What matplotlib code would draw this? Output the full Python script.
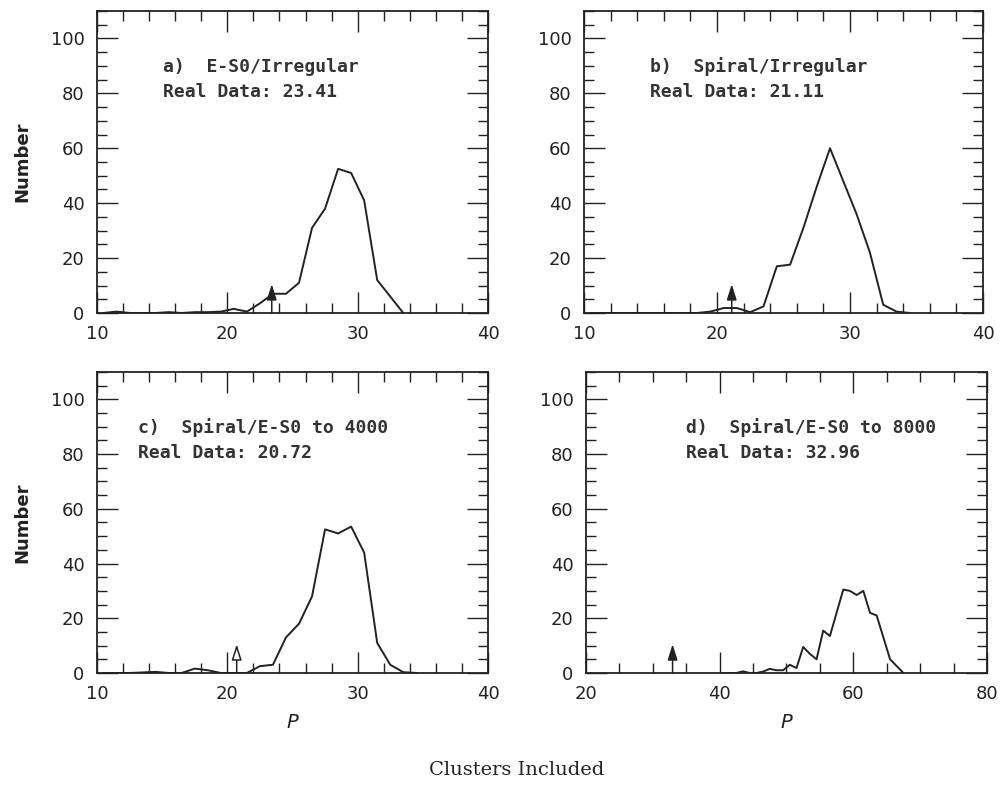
import matplotlib
matplotlib.use("Agg")
import matplotlib.pyplot as plt
from matplotlib.ticker import MultipleLocator

# bin centres and counts for each comparison
p_a = [10.5, 11.5, 12.5, 13.5, 14.5, 15.5, 16.5, 17.5, 18.5, 19.5, 20.5, 21.5, 22.5, 23.5,
       24.5, 25.5, 26.5, 27.5, 28.5, 29.5, 30.5, 31.5, 32.5, 33.5]
n_a = [0, 0.5, 0, 0, 0, 0.3, 0, 0.3, 0.3, 0.5, 1.5, 0.5, 3.5, 7,
       7, 11, 31, 38, 52.5, 51, 41, 12, 6, 0]

p_b = [10.5, 11.5, 12.5, 13.5, 14.5, 15.5, 16.5, 17.5, 18.5, 19.5, 20.5, 21.5, 22.5, 23.5,
       24.5, 25.5, 26.5, 27.5, 28.5, 29.5, 30.5, 31.5, 32.5, 33.5, 34.5]
n_b = [0, 0, 0, 0, 0, 0, 0, 0, 0, 0.5, 1.8, 1.8, 0.3, 2.4,
       17, 17.6, 31, 46, 60, 48, 36, 22, 3, 0.5, 0]

p_c = [10.5, 11.5, 12.5, 13.5, 14.5, 15.5, 16.5, 17.5, 18.5, 19.5, 20.5, 21.5, 22.5, 23.5,
       24.5, 25.5, 26.5, 27.5, 28.5, 29.5, 30.5, 31.5, 32.5, 33.5, 34.5]
n_c = [0, 0, 0, 0.2, 0.4, 0, 0, 1.6, 1, 0, 0, 0, 2.5, 3,
       13, 18, 28, 52.5, 51, 53.5, 44, 11, 3, 0.3, 0]

p_d = [40.5, 41.5, 42.5, 43.5, 44.5, 45.5, 46.5, 47.5, 48.5, 49.5, 50.5, 51.5, 52.5, 53.5,
       54.5, 55.5, 56.5, 57.5, 58.5, 59.5, 60.5, 61.5, 62.5, 63.5, 64.5, 65.5, 66.5, 67.5]
n_d = [0, 0, 0, 0.6, 0, 0, 0.5, 1.5, 1, 1, 3, 1.8, 9.5, 7,
       5, 15.5, 13.5, 22, 30.5, 30, 28.5, 30, 22, 21, 13, 5, 2.5, 0]

titles = ["a)  E-S0/Irregular", "b)  Spiral/Irregular",
          "c)  Spiral/E-S0 to 4000", "d)  Spiral/E-S0 to 8000"]
real_data = [23.41, 21.11, 20.72, 32.96]
xranges = [(10, 40), (10, 40), (10, 40), (20, 80)]

fig = plt.figure(figsize=(10.02, 7.85), dpi=100)
boxes = [[0.0968, 0.6013, 0.3902, 0.3847],
         [0.5828, 0.6013, 0.3982, 0.3847],
         [0.0968, 0.1427, 0.3902, 0.3834],
         [0.5848, 0.1427, 0.4002, 0.3834]]
text_x = [0.169, 0.165, 0.105, 0.249]
curves = [(p_a, n_a), (p_b, n_b), (p_c, n_c), (p_d, n_d)]
ink = "#222222"

for i in range(4):
    ax = fig.add_axes(boxes[i])
    xs, ys = curves[i]
    ax.plot(xs, ys, color=ink, lw=1.4)
    ax.set_xlim(*xranges[i])
    ax.set_ylim(0, 110)

    if i == 3:
        ax.xaxis.set_major_locator(MultipleLocator(20))
        ax.xaxis.set_minor_locator(MultipleLocator(5))
    else:
        ax.xaxis.set_major_locator(MultipleLocator(10))
        ax.xaxis.set_minor_locator(MultipleLocator(2))
    ax.yaxis.set_major_locator(MultipleLocator(20))
    ax.yaxis.set_minor_locator(MultipleLocator(5))
    ax.tick_params(which="both", direction="in", top=True, right=True,
                   width=1.0, color=ink)
    ax.tick_params(which="major", length=15, labelsize=13, pad=9,
                   labelcolor=ink)
    ax.tick_params(which="minor", length=7)
    for s in ax.spines.values():
        s.set_linewidth(1.3)
        s.set_color(ink)

    # arrow marking the real-data value
    face = "white" if i == 2 else ink
    ax.annotate("", xy=(real_data[i], 10.5), xytext=(real_data[i], 0),
                arrowprops=dict(arrowstyle="-|>,head_length=0.95,head_width=0.3",
                                fc=face, ec=ink, lw=1.1,
                                shrinkA=0, shrinkB=0))

    ax.text(text_x[i], 0.815, titles[i], transform=ax.transAxes,
            family="DejaVu Sans Mono", fontsize=13, fontweight="bold",
            va="center", color="#333333")
    ax.text(text_x[i], 0.732, "Real Data: %.2f" % real_data[i], transform=ax.transAxes,
            family="DejaVu Sans Mono", fontsize=13, fontweight="bold",
            va="center", color="#333333")

fig.text(0.022, 0.7936, "Number", rotation=90, ha="center", va="center",
         fontsize=13, fontweight="bold", color=ink)
fig.text(0.022, 0.3344, "Number", rotation=90, ha="center", va="center",
         fontsize=13, fontweight="bold", color=ink)
fig.text(0.2919, 0.080, "P", style="italic", ha="center", va="center",
         fontsize=14, color=ink)
fig.text(0.7848, 0.080, "P", style="italic", ha="center", va="center",
         fontsize=14, color=ink)
fig.text(0.516, 0.019, "Clusters Included", family="DejaVu Serif",
         ha="center", va="center", fontsize=14, color=ink)

fig.savefig("out.png", dpi=100)
